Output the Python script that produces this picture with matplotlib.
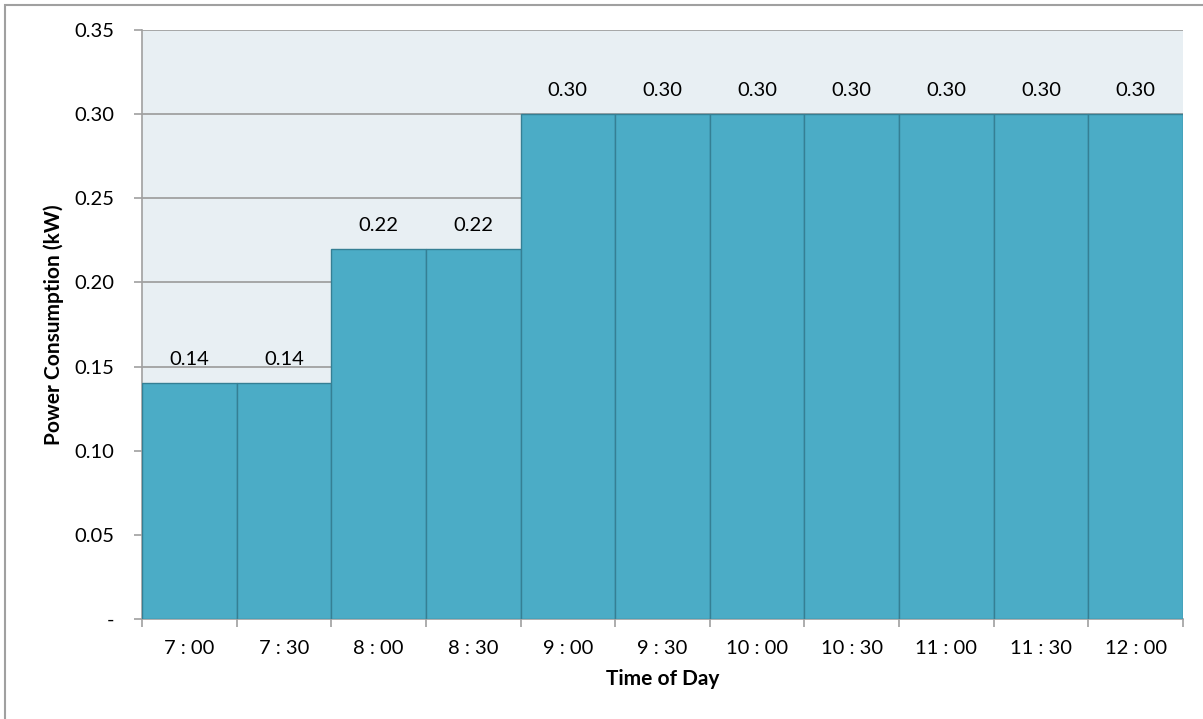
import matplotlib
import matplotlib.pyplot as plt
from matplotlib.patches import Rectangle
matplotlib.use('Agg')

# chart data
times = ["7 : 00", "7 : 30", "8 : 00", "8 : 30", "9 : 00", "9 : 30",
         "10 : 00", "10 : 30", "11 : 00", "11 : 30", "12 : 00"]
power_kw = [0.14, 0.14, 0.22, 0.22, 0.30, 0.30, 0.30, 0.30, 0.30, 0.30, 0.30]
y_ticks = [0.0, 0.05, 0.10, 0.15, 0.20, 0.25, 0.30, 0.35]
y_tick_labels = ["-", "0.05", "0.10", "0.15", "0.20", "0.25", "0.30", "0.35"]

plt.rcParams['font.family'] = ['Lato', 'DejaVu Sans']

fig = plt.figure(figsize=(12.03, 7.19), dpi=100)
# outer chart border (only top and left edges visible in the frame)
fig.patches.append(Rectangle((5 / 1203, -0.05), 1.1, 1 - 5 / 719 + 0.05,
                             transform=fig.transFigure, fill=False,
                             edgecolor='#A0A0A0', linewidth=1.5))

ax = fig.add_axes([142 / 1203, 1 - 619 / 719, (1183 - 142) / 1203, (619 - 30) / 719])
ax.set_facecolor('#E8EFF3')

x = list(range(len(times)))
ax.bar(x, power_kw, width=1.0, color='#4BACC6', edgecolor='#357F94',
       linewidth=1.0, zorder=3)
for xi, v in zip(x, power_kw):
    ax.text(xi, v + 0.009, f"{v:.2f}", ha='center', va='bottom', fontsize=14.5,
            color='black', zorder=4)

ax.set_xlim(-0.5, len(times) - 0.5)
ax.set_ylim(0, 0.35)
ax.set_yticks(y_ticks)
ax.set_yticklabels(y_tick_labels, fontsize=14.5)
ax.yaxis.grid(True, color='#9A9A9A', linewidth=1.2, zorder=0)
ax.set_axisbelow(True)

ax.set_xticks(x)
ax.set_xticklabels(times, fontsize=14.5)
ax.set_xticks([i - 0.5 for i in range(len(times) + 1)], minor=True)
ax.tick_params(axis='x', which='major', length=0, pad=15)
ax.tick_params(axis='x', which='minor', length=6, color='#A0A0A0', width=1.2)
ax.tick_params(axis='y', length=6, color='#A0A0A0', width=1.2, pad=14)

for side in ['top', 'right']:
    ax.spines[side].set_visible(False)
for side in ['left', 'bottom']:
    ax.spines[side].set_color('#A0A0A0')
    ax.spines[side].set_linewidth(1.2)

ax.set_xlabel("Time of Day", fontsize=15, fontweight='bold', labelpad=9)
ax.set_ylabel("Power Consumption (kW)", fontsize=15, fontweight='bold', labelpad=7)

fig.savefig("out.png", dpi=100)
